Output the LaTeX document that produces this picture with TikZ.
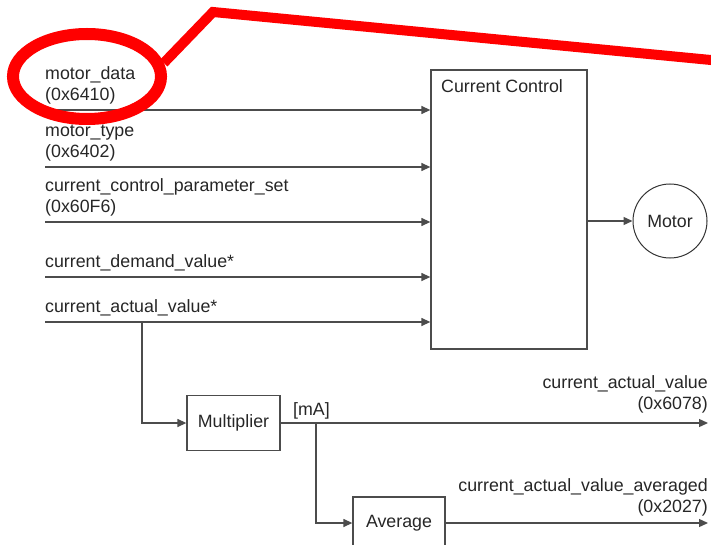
\documentclass[tikz,border=0pt]{standalone}
\usepackage{fontspec}
\setmainfont{Liberation Sans}
\usetikzlibrary{arrows.meta,shapes.geometric}

\begin{document}
\begin{tikzpicture}[x=1pt, y=-1pt, every node/.style={font=\fontsize{17.8}{20.5}\selectfont, text=black!85}, >={Triangle[length=9pt,width=8pt]},
  sig/.style={draw=black!70, line width=1.3pt},
  block/.style={draw=black!70, line width=1.3pt, inner sep=0pt},
  lbl/.style={inner sep=0pt, align=left, anchor=south west},
  rlbl/.style={inner sep=0pt, align=right, anchor=south east}]
	\useasboundingbox (0,0) rectangle (711,545);
	\clip (0,0) rectangle (711,545);
	% blocks
	\node[block, minimum width=156, minimum height=279] (cc) at (509,209.5) {};
	\node[inner sep=0pt, anchor=base west] (cctitle) at (441,93) {Current Control};
	\node[block, circle, line width=1pt, draw=black!80, minimum size=74] (motor) at (670,221) {Motor};
	\node[block, minimum width=93, minimum height=55] (mult) at (233.5,423) {Multiplier};
	\node[block, minimum width=92, minimum height=52] (avg) at (399,523) {Average};
	% inputs of the current control
	\foreach \y/\nm in {110/md, 167/mt, 222/cps, 277/cdv, 322/cav} {
		\coordinate (in-\nm) at (45,\y);
		\draw[sig, ->] (in-\nm) -- (in-\nm -| cc.west);
	}
	\node[lbl] (l-md) at (45,104) {motor\_data\\(0x6410)};
	\node[lbl] (l-mt) at (45,161) {motor\_type\\(0x6402)};
	\node[lbl] (l-cps) at (45,216) {current\_control\_parameter\_set\\(0x60F6)};
	\node[lbl] (l-cdv) at (45,271) {current\_demand\_value*};
	\node[lbl] (l-cav) at (45,316) {current\_actual\_value*};
	\draw[sig, ->] (cc.east |- motor) -- (motor.west);
	% measured current path
	\coordinate (tap1) at (142,322);
	\coordinate (tap2) at (316,423);
	\coordinate (out1) at (708,423);
	\coordinate (out2) at (708,523);
	\draw[sig, ->] (tap1) |- (mult.west);
	\draw[sig, ->] (mult.east) -- (out1);
	\draw[sig, ->] (tap2) |- (avg.west);
	\draw[sig, ->] (avg.east) -- (out2);
	\node[inner sep=0pt, anchor=base west] (unit) at (293,415) {[mA]};
	\node[rlbl] (l-out1) at (708,413) {current\_actual\_value\\(0x6078)};
	\node[rlbl] (l-out2) at (708,516) {current\_actual\_value\_averaged\\(0x2027)};
	% red highlight
	\node[draw=red, line width=12pt, ellipse, minimum width=148, minimum height=85, inner sep=0pt] (callout) at (87,76.5) {};
	\coordinate (bend) at (213,12);
	\coordinate (far) at (716,60.5);
	\draw[red, line width=10pt] (callout.10) -- (bend) -- (far);
\end{tikzpicture}
\end{document}
